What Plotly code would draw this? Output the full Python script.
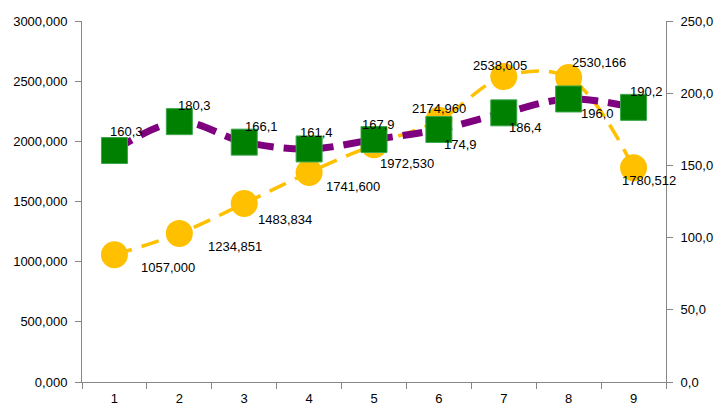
import plotly.graph_objects as go

categories = ["1", "2", "3", "4", "5", "6", "7", "8", "9"]
yellow_vals = [1057.000, 1234.851, 1483.834, 1741.600, 1972.530, 2174.960, 2538.005, 2530.166, 1780.512]
green_vals = [160.3, 180.3, 166.1, 161.4, 167.9, 174.9, 186.4, 196.0, 190.2]

FONT = "Liberation Sans, Arial, sans-serif"
FS = 13
YEL = "#FFC000"
PUR = "#7F007F"
GRN = "#008000"

fig = go.Figure()
fig.add_trace(go.Scatter(
    x=categories, y=yellow_vals, mode="lines+markers", yaxis="y",
    line=dict(color=YEL, width=3.5, dash="18px,10px", shape="spline", smoothing=1),
    marker=dict(symbol="circle", size=27, color=YEL, line=dict(color=YEL, width=0)),
    showlegend=False, hoverinfo="skip"))
fig.add_trace(go.Scatter(
    x=categories, y=green_vals, mode="lines+markers", yaxis="y2",
    line=dict(color=PUR, width=7, dash="20px,10px", shape="spline", smoothing=1),
    marker=dict(symbol="square", size=26, color=GRN, line=dict(color="#3aa64a", width=1)),
    showlegend=False, hoverinfo="skip"))

# label placement styles (anchor, x shift, y shift in px)
y_style = [("left", 26, -13), ("left", 28, -13), ("left", 13, -16), ("left", 16, -14),
           ("left", 5, -19), ("center", 0, 12), ("center", -4, 11), ("left", 2, 15), ("left", -13, -13)]
g_style = [("left", -5, 19), ("left", -2, 16), ("left", 0, 16), ("left", -10, 16),
           ("left", -13, 15), ("left", 4, -15), ("left", 4, -15), ("left", 11, -15), ("left", -5, 16)]

anns = []
for i, (v, (a, dx, dy)) in enumerate(zip(yellow_vals, y_style)):
    anns.append(dict(x=i, y=v, xref="x", yref="y", text=f"{v:.3f}".replace(".", ","),
                     showarrow=False, xanchor=a, yanchor="middle", xshift=dx, yshift=dy,
                     borderpad=0, font=dict(family=FONT, size=FS, color="#000000")))
for i, (v, (a, dx, dy)) in enumerate(zip(green_vals, g_style)):
    anns.append(dict(x=i, y=v, xref="x", yref="y2", text=f"{v:.1f}".replace(".", ","),
                     showarrow=False, xanchor=a, yanchor="middle", xshift=dx, yshift=dy,
                     borderpad=0, font=dict(family=FONT, size=FS, color="#000000")))

axis_common = dict(showgrid=False, zeroline=False, showline=True, linecolor="#868686",
                   linewidth=1, ticks="outside", ticklen=6, tickcolor="#868686",
                   automargin=False,
                   tickfont=dict(family=FONT, size=FS, color="#000000"))

fig.update_layout(
    width=728, height=408,
    margin=dict(l=82, r=62, t=21, b=26),
    paper_bgcolor="white", plot_bgcolor="white",
    separators=",.",
    font=dict(family=FONT, size=FS, color="#000000"),
    xaxis=dict(type="category", tickson="boundaries", range=[-0.5, len(categories) - 0.5],
               ticklabelstandoff=4, **axis_common),
    yaxis=dict(range=[0, 3000], tickvals=[0, 500, 1000, 1500, 2000, 2500, 3000],
               tickformat=".3f", ticklabelstandoff=5, **axis_common),
    yaxis2=dict(range=[0, 250], tickvals=[0, 50, 100, 150, 200, 250], tickformat=".1f",
                overlaying="y", side="right", ticklabelstandoff=5, **axis_common),
    annotations=anns,
)

fig.write_html("out.html")
